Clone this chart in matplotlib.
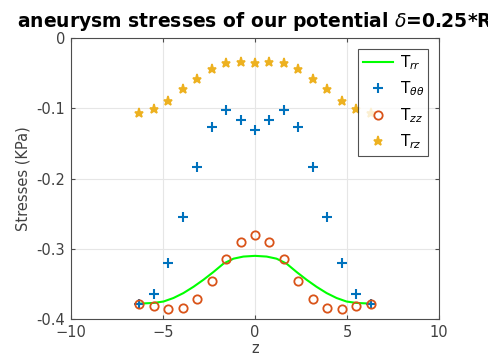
import numpy as np
import matplotlib
matplotlib.use("Agg")
import matplotlib.pyplot as plt

# sample positions along the vessel axis (-2pi .. 2pi, step pi/4)
z_pts = [-6.28, -5.50, -4.71, -3.93, -3.14, -2.36, -1.57, -0.785, 0.0,
         0.785, 1.57, 2.36, 3.14, 3.93, 4.71, 5.50, 6.28]

t_thth = [-0.379, -0.364, -0.320, -0.254, -0.183, -0.126, -0.103, -0.116, -0.131,
          -0.116, -0.103, -0.126, -0.183, -0.254, -0.320, -0.364, -0.379]
t_zz = [-0.378, -0.382, -0.386, -0.384, -0.371, -0.346, -0.315, -0.290, -0.281,
        -0.290, -0.315, -0.346, -0.371, -0.384, -0.386, -0.382, -0.378]
t_rz = [-0.106, -0.101, -0.089, -0.073, -0.058, -0.044, -0.035, -0.034, -0.035,
        -0.034, -0.035, -0.044, -0.058, -0.073, -0.089, -0.101, -0.106]

# T_rr is drawn as a continuous curve
z_line = [-6.28, -5.50, -4.97, -4.43, -3.89, -3.34, -2.80, -2.26, -1.71, -1.17, -0.63, 0.0,
          0.63, 1.17, 1.71, 2.26, 2.80, 3.34, 3.89, 4.43, 4.97, 5.50, 6.28]
t_rr = [-0.378, -0.377, -0.375, -0.370, -0.363, -0.354, -0.344, -0.333, -0.321, -0.314, -0.311, -0.310,
        -0.311, -0.314, -0.321, -0.333, -0.344, -0.354, -0.363, -0.370, -0.375, -0.377, -0.378]

xticks = [-10, -5, 0, 5, 10]
yticks = [-0.4, -0.3, -0.2, -0.1, 0]
ytick_labels = ["-0.4", "-0.3", "-0.2", "-0.1", "0"]

txt = "#404040"
fig = plt.figure(figsize=(4.89, 3.63), dpi=100)
ax = fig.add_axes([0.145, 0.121, 0.753, 0.774])

ax.plot(z_line, t_rr, color="#00ff00", lw=1.5, label=r"T$_{rr}$", zorder=3)
ax.plot(z_pts, t_thth, ls="none", marker="+", ms=6.5, mew=1.5, color="#0072bd",
        label=r"T$_{\theta\theta}$", zorder=4)
ax.plot(z_pts, t_zz, ls="none", marker="o", ms=6, mew=1.3, mfc="none", color="#d95319",
        label=r"T$_{zz}$", zorder=4)
ax.plot(z_pts, t_rz, ls="none", marker="*", ms=6.5, mew=1.2, color="#edb120",
        label=r"T$_{rz}$", zorder=4)

ax.set_xlim(-10, 10)
ax.set_ylim(-0.4, 0)
ax.set_xticks(xticks)
ax.set_yticks(yticks)
ax.set_yticklabels(ytick_labels)
ax.grid(True, color="#e6e6e6", lw=0.8)
ax.set_axisbelow(True)
ax.tick_params(direction="in", top=True, right=True, length=3, colors="#4d4d4d",
               labelcolor=txt, labelsize=10.5, pad=4)
for s in ax.spines.values():
    s.set_color("#4d4d4d")
    s.set_linewidth(0.8)

ax.set_xlabel("z", fontsize=10.5, color=txt, labelpad=1)
ax.set_ylabel("Stresses (KPa)", fontsize=10.5, color=txt, labelpad=4)
ax.set_title(r"aneurysm stresses of our potential $\delta$=0.25*R", fontsize=13.5,
             fontweight="bold", pad=8)

leg = ax.legend(loc="upper right", fontsize=11, frameon=True, fancybox=False,
                edgecolor="#262626", borderaxespad=0.7, handlelength=2.0,
                labelspacing=0.5, borderpad=0.3, handletextpad=0.4)
leg.get_frame().set_linewidth(0.8)

fig.savefig("out.png", dpi=100)
